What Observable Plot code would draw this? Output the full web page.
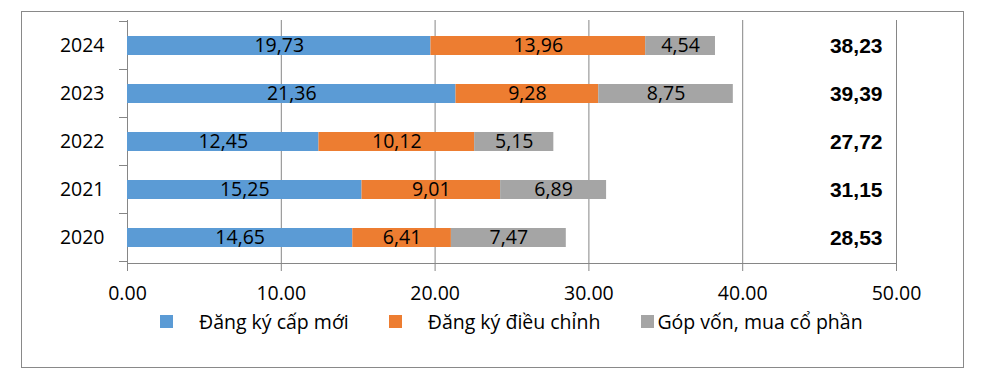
<!DOCTYPE html>
<html><head><meta charset="utf-8">
<script src="https://cdn.jsdelivr.net/npm/d3@7"></script>
<script src="https://cdn.jsdelivr.net/npm/@observablehq/plot@0.6"></script>
<style>
body{margin:0;background:#fff;}
#wrap{position:relative;width:986px;height:383px;overflow:hidden;background:#fff;font-family:"Open Sans",sans-serif;}
#border{position:absolute;left:21px;top:11px;width:941px;height:355px;border:1px solid #898989;}
#chart{position:absolute;left:0;top:0;}
#legend{position:absolute;left:160px;top:308px;display:flex;align-items:center;font-size:19.5px;color:#000;white-space:nowrap;}
#legend .item{display:flex;align-items:center;}
#legend .sw{display:inline-block;width:13px;height:13px;}
</style></head>
<body><div id="wrap"><div id="border"></div><div id="chart"></div><div id="legend"></div></div>
<script>
// ---- data ----
const years = ["2024", "2023", "2022", "2021", "2020"];
const seriesNames = ["Đăng ký cấp mới", "Đăng ký điều chỉnh", "Góp vốn, mua cổ phần"];
const newRegistration = [19.73, 21.36, 12.45, 15.25, 14.65];
const adjustment = [13.96, 9.28, 10.12, 9.01, 6.41];
const capitalContribution = [4.54, 8.75, 5.15, 6.89, 7.47];
const totals = [38.23, 39.39, 27.72, 31.15, 28.53];
const xTicks = [0, 10, 20, 30, 40, 50];
const seriesColors = ["#5B9BD5", "#ED7D31", "#A5A5A5"];

const seriesValues = [newRegistration, adjustment, capitalContribution];
const rows = years.flatMap((year, i) =>
  seriesNames.map((s, j) => ({year, series: s, value: seriesValues[j][i]})));
const totalRows = years.map((year, i) => ({year, total: totals[i]}));
const comma = v => v.toFixed(2).replace(".", ",");

// boundary ticks on the category axis (Excel style), computed from the y scale
function yBoundaryTicks(index, scales, values, dimensions) {
  const y = scales.y;
  const step = y(years[1]) - y(years[0]);
  const bw = typeof y.bandwidth === "function" ? y.bandwidth() : 0.4 * step;
  const half = (step - bw) / 2;
  const ys = years.map(d => y(d) - half);
  ys.push(y(years[years.length - 1]) + bw + half);
  const g = d3.create("svg:g");
  const x0 = dimensions.marginLeft;
  g.selectAll("line").data(ys).join("line")
    .attr("x1", x0 - 8).attr("x2", x0)
    .attr("y1", d => d).attr("y2", d => d)
    .attr("stroke", "#868686").attr("stroke-width", 1);
  return g.node();
}

const chart = Plot.plot({
  width: 986,
  height: 310,
  marginLeft: 127,
  marginRight: 90,
  marginTop: 20,
  marginBottom: 47,
  style: {fontFamily: "'Open Sans', sans-serif", fontSize: "19.5px", color: "#000", background: "transparent"},
  x: {domain: [0, 50], axis: null, label: null},
  y: {domain: years, paddingInner: 0.6, paddingOuter: 0.3, axis: null, label: null},
  color: {domain: seriesNames, range: seriesColors},
  marks: [
    Plot.gridX(xTicks, {stroke: "#868686", strokeOpacity: 1}),
    Plot.frame({anchor: "bottom", stroke: "#868686"}),
    Plot.barX(rows, Plot.stackX({y: "year", x: "value", fill: "series", order: seriesNames})),
    Plot.text(rows, Plot.stackX({y: "year", x: "value", z: "series", order: seriesNames,
      text: d => comma(d.value), fill: "#000", fontSize: 19.5})),
    Plot.text(totalRows, {y: "year", text: d => comma(d.total), frameAnchor: "right", textAnchor: "end",
      dx: -14, fontFamily: "'Liberation Sans', Arial, sans-serif", fontWeight: "bold", fontSize: 21, fill: "#000"}),
    Plot.axisX({ticks: xTicks, tickSize: 8, tickPadding: 15, tickFormat: d3.format(".2f"),
      stroke: "#868686", fill: "#000", fontSize: 19.5, label: null}),
    Plot.axisY({tickSize: 0, tickPadding: 23, fill: "#000", fontSize: 19.5, label: null}),
    yBoundaryTicks
  ]
});
document.getElementById("chart").appendChild(chart);

// legend
const legend = document.getElementById("legend");
const swatchGap = [26, 26, 3];
const itemGap = [40, 41, 0];
seriesNames.forEach((name, i) => {
  const item = document.createElement("div");
  item.className = "item";
  item.style.marginRight = itemGap[i] + "px";
  const sw = document.createElement("span");
  sw.className = "sw";
  sw.style.background = seriesColors[i];
  sw.style.marginRight = swatchGap[i] + "px";
  const t = document.createElement("span");
  t.textContent = name;
  item.appendChild(sw);
  item.appendChild(t);
  legend.appendChild(item);
});
</script>
</body></html>
